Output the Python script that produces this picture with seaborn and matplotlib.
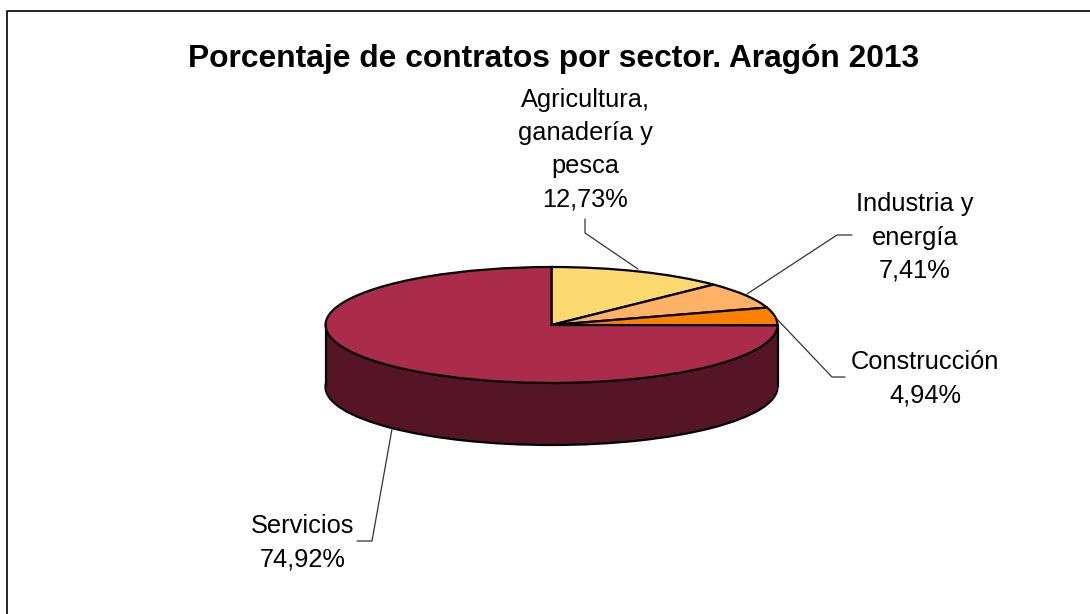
# Pie chart of contracts by sector, with a fake 3D look
import numpy as np
import matplotlib.pyplot as plt
import seaborn as sns

sectores = ["Agricultura,\nganadería y\npesca", "Industria y\nenergía", "Construcción", "Servicios"]
porcentajes = [12.73, 7.41, 4.94, 74.92]
colores = ["#FDD96F", "#FFB266", "#FF8000", "#AA2B4A"]
color_lateral = "#551527"
titulo = "Porcentaje de contratos por sector. Aragón 2013"

sns.set_theme(style="white")
plt.rcParams['font.family'] = ['Liberation Sans', 'DejaVu Sans']

W, H = 1090, 614
cx, cy, rx, ry, prof = 551.5, 325, 226, 58, 62

fig = plt.figure(figsize=(W / 100, H / 100), dpi=100, facecolor="white")

# pie axes: data units are the pie radius, squashed in y
ax = fig.add_axes([0, 0, 1, 1])
d = prof / ry
for off in np.linspace(d, 0, 40):
    ax.pie([sum(porcentajes)], colors=[color_lateral], center=(0, -off), startangle=90,
           wedgeprops=dict(linewidth=1.6 if off == d else 0, edgecolor="black"))
ax.vlines([-1, 1], -d, 0, color="black", linewidth=1.6)
ax.pie(porcentajes, colors=colores, startangle=90, counterclock=False,
       wedgeprops=dict(linewidth=1.6, edgecolor="black"))
ax.set_aspect("auto")
ax.set_xlim(-cx / rx, (W - cx) / rx)
ax.set_ylim((cy - H) / ry, cy / ry)

# overlay in pixel units for frame, texts and leader lines
ov = fig.add_axes([0, 0, 1, 1], facecolor="none")
ov.set_xlim(0, W)
ov.set_ylim(H, 0)
ov.axis("off")

ov.plot([7, 7, W], [H, 11, 11], color="black", linewidth=1.2)
ov.text(553.5, 59, titulo, ha="center", va="center", fontsize=22.9, fontweight="bold", color="black")

pos_texto = [(585, 149.5), (915, 237.5), (925, 378.5), (303, 542.5)]
guias = [
    [(638, 269), (585, 233), (585, 219)],
    [(747, 294), (837, 235), (852, 235)],
    [(775, 317), (832, 377), (845, 377)],
    [(392, 429), (372, 541), (357, 541)],
]
for nombre, valor, (x, y), guia in zip(sectores, porcentajes, pos_texto, guias):
    etiqueta = nombre + "\n" + f"{valor:.2f}".replace(".", ",") + "%"
    ov.text(x, y, etiqueta, ha="center", va="center", fontsize=18.3, color="black",
            linespacing=1.49, multialignment="center")
    gx, gy = zip(*guia)
    ov.plot(gx, gy, color="#333333", linewidth=0.9)

fig.savefig("out.png", dpi=100)
